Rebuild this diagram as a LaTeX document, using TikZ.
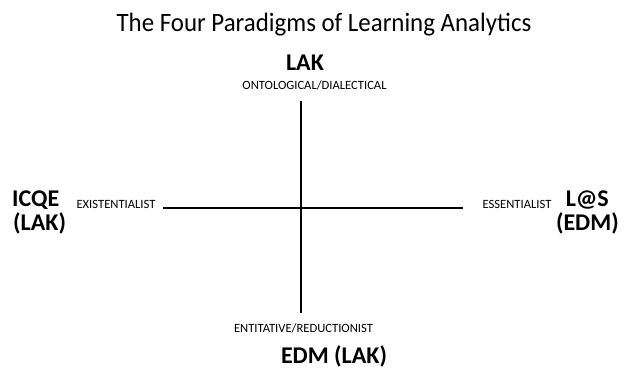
\documentclass[tikz,border=0pt]{standalone}
\usepackage{fontspec}
\setmainfont{Carlito}
\newfontfamily\titlefont[FakeStretch=0.94]{Carlito}
\begin{document}
\begin{tikzpicture}[x=1pt,y=-1pt,
  title/.style={font=\titlefont\fontsize{26.5}{30}\selectfont, inner sep=0pt, anchor=base},
  big/.style={font=\fontsize{24}{28}\selectfont\bfseries, inner sep=0pt},
  small/.style={font=\fontsize{12.6}{14}\selectfont, inner sep=0pt, anchor=base},
  axis/.style={line width=2pt, black}]
\useasboundingbox (0,0) rectangle (628,368);
\node[title] (t) at (324,31) {The Four Paradigms of Learning Analytics};
\node[big, anchor=base] (lak) at (305,70) {LAK};
\node[small] (onto) at (314.5,89.3) {ONTOLOGICAL/DIALECTICAL};
\node[big, anchor=base west] (icqe) at (12,206) {ICQE};
\node[big, anchor=base west] (lak2) at (13,230) {(LAK)};
\node[small] (exi) at (116,208.5) {EXISTENTIALIST};
\node[small] (ess) at (517,208.5) {ESSENTIALIST};
\node[big, anchor=base east] (las) at (609,206) {L@S};
\node[big, anchor=base east] (edm) at (619,230) {(EDM)};
\node[small] (ent) at (303.5,332) {ENTITATIVE/REDUCTIONIST};
\node[big, anchor=base] (edmlak) at (334,363) {EDM (LAK)};
\coordinate (vt) at (301,101);
\coordinate (vb) at (301,313);
\coordinate (hl) at (163,207.5);
\coordinate (hr) at (463,207.5);
\draw[axis] (vt) -- (vb);
\draw[axis] (hl) -- (hr);
\end{tikzpicture}
\end{document}
